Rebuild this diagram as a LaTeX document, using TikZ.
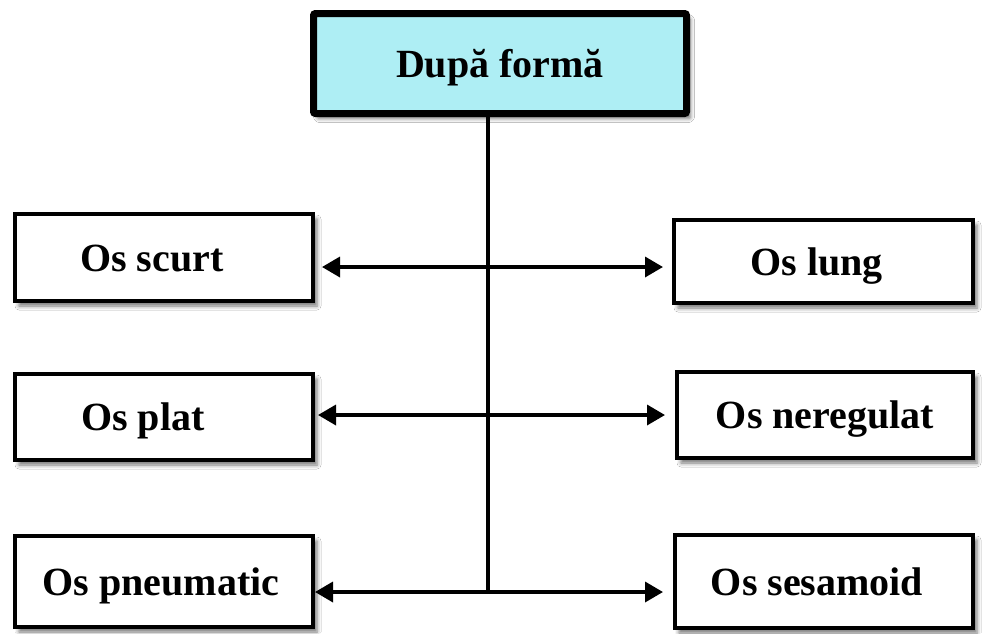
\documentclass[tikz,border=0pt]{standalone}
\usepackage{fontspec}
\setmainfont{Liberation Serif}
\usetikzlibrary{arrows.meta,shadows.blur}
\definecolor{topfill}{RGB}{174,238,244}
\begin{document}
\begin{tikzpicture}[x=1pt,y=-1pt,
  box/.style={draw=black,line width=4pt,fill=white,rectangle,
    minimum width=298pt,inner sep=0pt,text height=27pt,text depth=0pt,
    font=\fontsize{40}{48}\selectfont\bfseries,
    blur shadow={shadow xshift=4pt,shadow yshift=-5pt,shadow blur radius=4pt,shadow opacity=55}},
  topbox/.style={box,line width=7pt,fill=topfill,rounded corners=2pt,minimum width=373pt,minimum height=100pt},
  conn/.style={line width=3.5pt},
  arr/.style={conn,-{Triangle[length=18pt,width=20pt]}}]
\useasboundingbox (0,0) rectangle (998,633);
\fill[white] (0,0) rectangle (998,633);
% nodes
\node[topbox] (top) at (500,63.5) {După formă};
\node[box,minimum height=87pt] (scurt) at (164,257.5) {\hspace*{-24pt}Os scurt};
\node[box,minimum height=86pt] (plat) at (164,417) {\hspace*{-42pt}Os plat};
\node[box,minimum height=91pt] (pneu) at (164,581.5) {\hspace*{-6pt}Os pneumatic};
\node[box,minimum height=83pt,minimum width=299pt] (lung) at (823.5,261.5) {\hspace*{-14pt}Os lung};
\node[box,minimum height=86pt,minimum width=296pt] (nereg) at (825,415) {Os neregulat};
\node[box,minimum height=93pt] (sesam) at (824,581.5) {\hspace*{-14pt}Os sesamoid};
% junctions on the trunk
\coordinate (j1) at (488,267);
\coordinate (j2) at (488,415);
\coordinate (j3) at (488,592);
% connectors
\draw[conn] (top.south -| j1) -- (j3);
\draw[arr,shorten >=7pt] (j1) -- (scurt.east |- j1);
\draw[arr,shorten >=9pt] (j1) -- (lung.west |- j1);
\draw[arr,shorten >=3pt] (j2) -- (plat.east |- j2);
\draw[arr,shorten >=10pt] (j2) -- (nereg.west |- j2);
\draw[arr,shorten >=0pt] (j3) -- (pneu.east |- j3);
\draw[arr,shorten >=10pt] (j3) -- (sesam.west |- j3);
\end{tikzpicture}
\end{document}
